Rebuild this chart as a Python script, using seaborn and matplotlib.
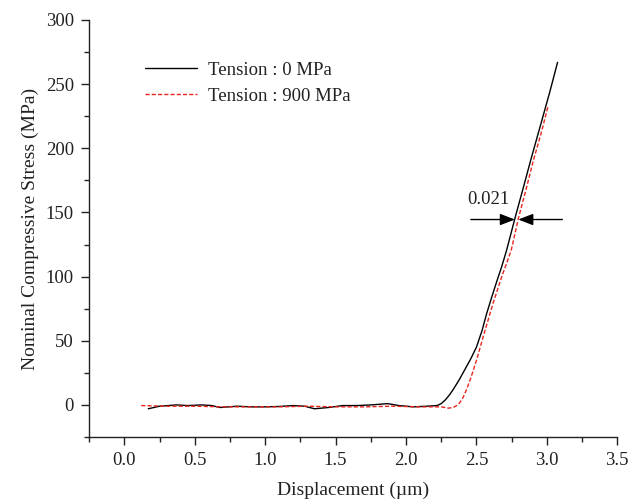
import numpy as np
import pandas as pd
import matplotlib
matplotlib.use("Agg")
import matplotlib.pyplot as plt
import seaborn as sns
from matplotlib.ticker import MultipleLocator

# --- data ---
x0 = [0.17, 0.25, 0.37, 0.45, 0.55, 0.62, 0.68, 0.80, 0.90, 1.00, 1.10, 1.20, 1.28, 1.35, 1.45, 1.55,
      1.65, 1.75, 1.87, 1.95, 2.05, 2.15, 2.22, 2.25, 2.28, 2.31, 2.335, 2.38, 2.42, 2.46, 2.50, 2.54,
      2.572, 2.61, 2.643, 2.68, 2.714, 2.773, 2.832, 2.891, 2.96, 3.021, 3.076]
y0 = [-3.0, -1.0, 0.0, -0.5, 0.0, -0.5, -2.0, -1.0, -1.5, -1.5, -1.2, -0.5, -1.0, -3.0, -2.0, -0.5,
      -0.5, 0.0, 1.0, -0.5, -1.5, -1.0, -0.5, 1.0, 4.0, 8.0, 12.0, 20.0, 28.0, 36.0, 45.0, 58.0,
      71.0, 84.5, 95.8, 108.0, 120.5, 145.3, 169.0, 193.0, 220.0, 244.0, 267.0]

x900 = [0.12, 0.30, 0.50, 0.70, 0.90, 1.10, 1.30, 1.50, 1.70, 1.90, 2.10, 2.25, 2.30, 2.335, 2.36,
        2.38, 2.406, 2.43, 2.46, 2.50, 2.547, 2.617, 2.68, 2.747, 2.797, 2.85, 2.903, 2.96, 3.009]
y900 = [-0.5, -1.0, -1.0, -1.5, -1.5, -1.5, -1.0, -1.5, -1.5, -1.0, -1.5, -1.5, -2.5, -2.0, -0.5,
        1.5, 6.0, 12.0, 21.0, 34.6, 52.8, 78.9, 100.0, 120.5, 145.0, 167.0, 190.0, 212.0, 233.0]

labels = ["Tension : 0 MPa", "Tension : 900 MPa"]
annot_text = "0.021"

df = pd.concat([
    pd.DataFrame({"x": x0, "y": y0, "series": labels[0]}),
    pd.DataFrame({"x": x900, "y": y900, "series": labels[1]}),
], ignore_index=True)

sns.set_style("ticks")
plt.rcParams["font.family"] = ["Liberation Serif", "DejaVu Serif"]

fig = plt.figure(figsize=(6.41, 5.0), dpi=100)
ax = fig.add_axes([0.139, 0.126, 0.824, 0.834])

sns.lineplot(data=df, x="x", y="y", hue="series", style="series",
             palette={labels[0]: "black", labels[1]: "#e8241c"},
             dashes={labels[0]: "", labels[1]: (3, 1.5)},
             sort=False, estimator=None, linewidth=1.0, ax=ax, legend=True)

ax.set_xlim(-0.25, 3.5)
ax.set_ylim(-25, 300)
ax.xaxis.set_minor_locator(MultipleLocator(0.25))
ax.yaxis.set_minor_locator(MultipleLocator(25))
xt = np.arange(0, 3.51, 0.5)
ax.set_xticks(xt)
ax.set_xticklabels([f"{v:.1f}" for v in xt])
yt = np.arange(0, 301, 50)
ax.set_yticks(yt)
ax.set_yticklabels([f"{int(v)}" for v in yt])
ax.tick_params(which="major", direction="out", length=6, width=1.0, labelsize=13.5,
               colors="#222222", pad=5)
ax.tick_params(which="minor", direction="out", length=3.5, width=1.0, colors="#222222")
for s in ["top", "right"]:
    ax.spines[s].set_visible(False)
for s in ["left", "bottom"]:
    ax.spines[s].set_linewidth(1.0)
    ax.spines[s].set_color("#222222")

ax.set_xlabel("Displacement (µm)", fontsize=14, labelpad=9, color="#222222")
ax.set_ylabel("Nominal Compressive Stress (MPa)", fontsize=14, labelpad=5, color="#222222")

leg = ax.legend(loc="upper left", bbox_to_anchor=(0.074, 0.94), frameon=False,
                fontsize=13.5, handlelength=2.75, handletextpad=0.6, labelspacing=0.46)
for t in leg.get_texts():
    t.set_color("#222222")

# annotation arrows
ax.annotate("", xy=(2.773, 144.5), xytext=(2.46, 144.5),
            arrowprops=dict(arrowstyle="-|>,head_length=0.9,head_width=0.35", color="black", lw=1.0,
                            shrinkA=0, shrinkB=0))
ax.annotate("", xy=(2.797, 144.5), xytext=(3.11, 144.5),
            arrowprops=dict(arrowstyle="-|>,head_length=0.9,head_width=0.35", color="black", lw=1.0,
                            shrinkA=0, shrinkB=0))
ax.text(2.435, 160, annot_text, fontsize=13.5, ha="left", va="center", color="#222222")

fig.savefig("out.png", dpi=100)
